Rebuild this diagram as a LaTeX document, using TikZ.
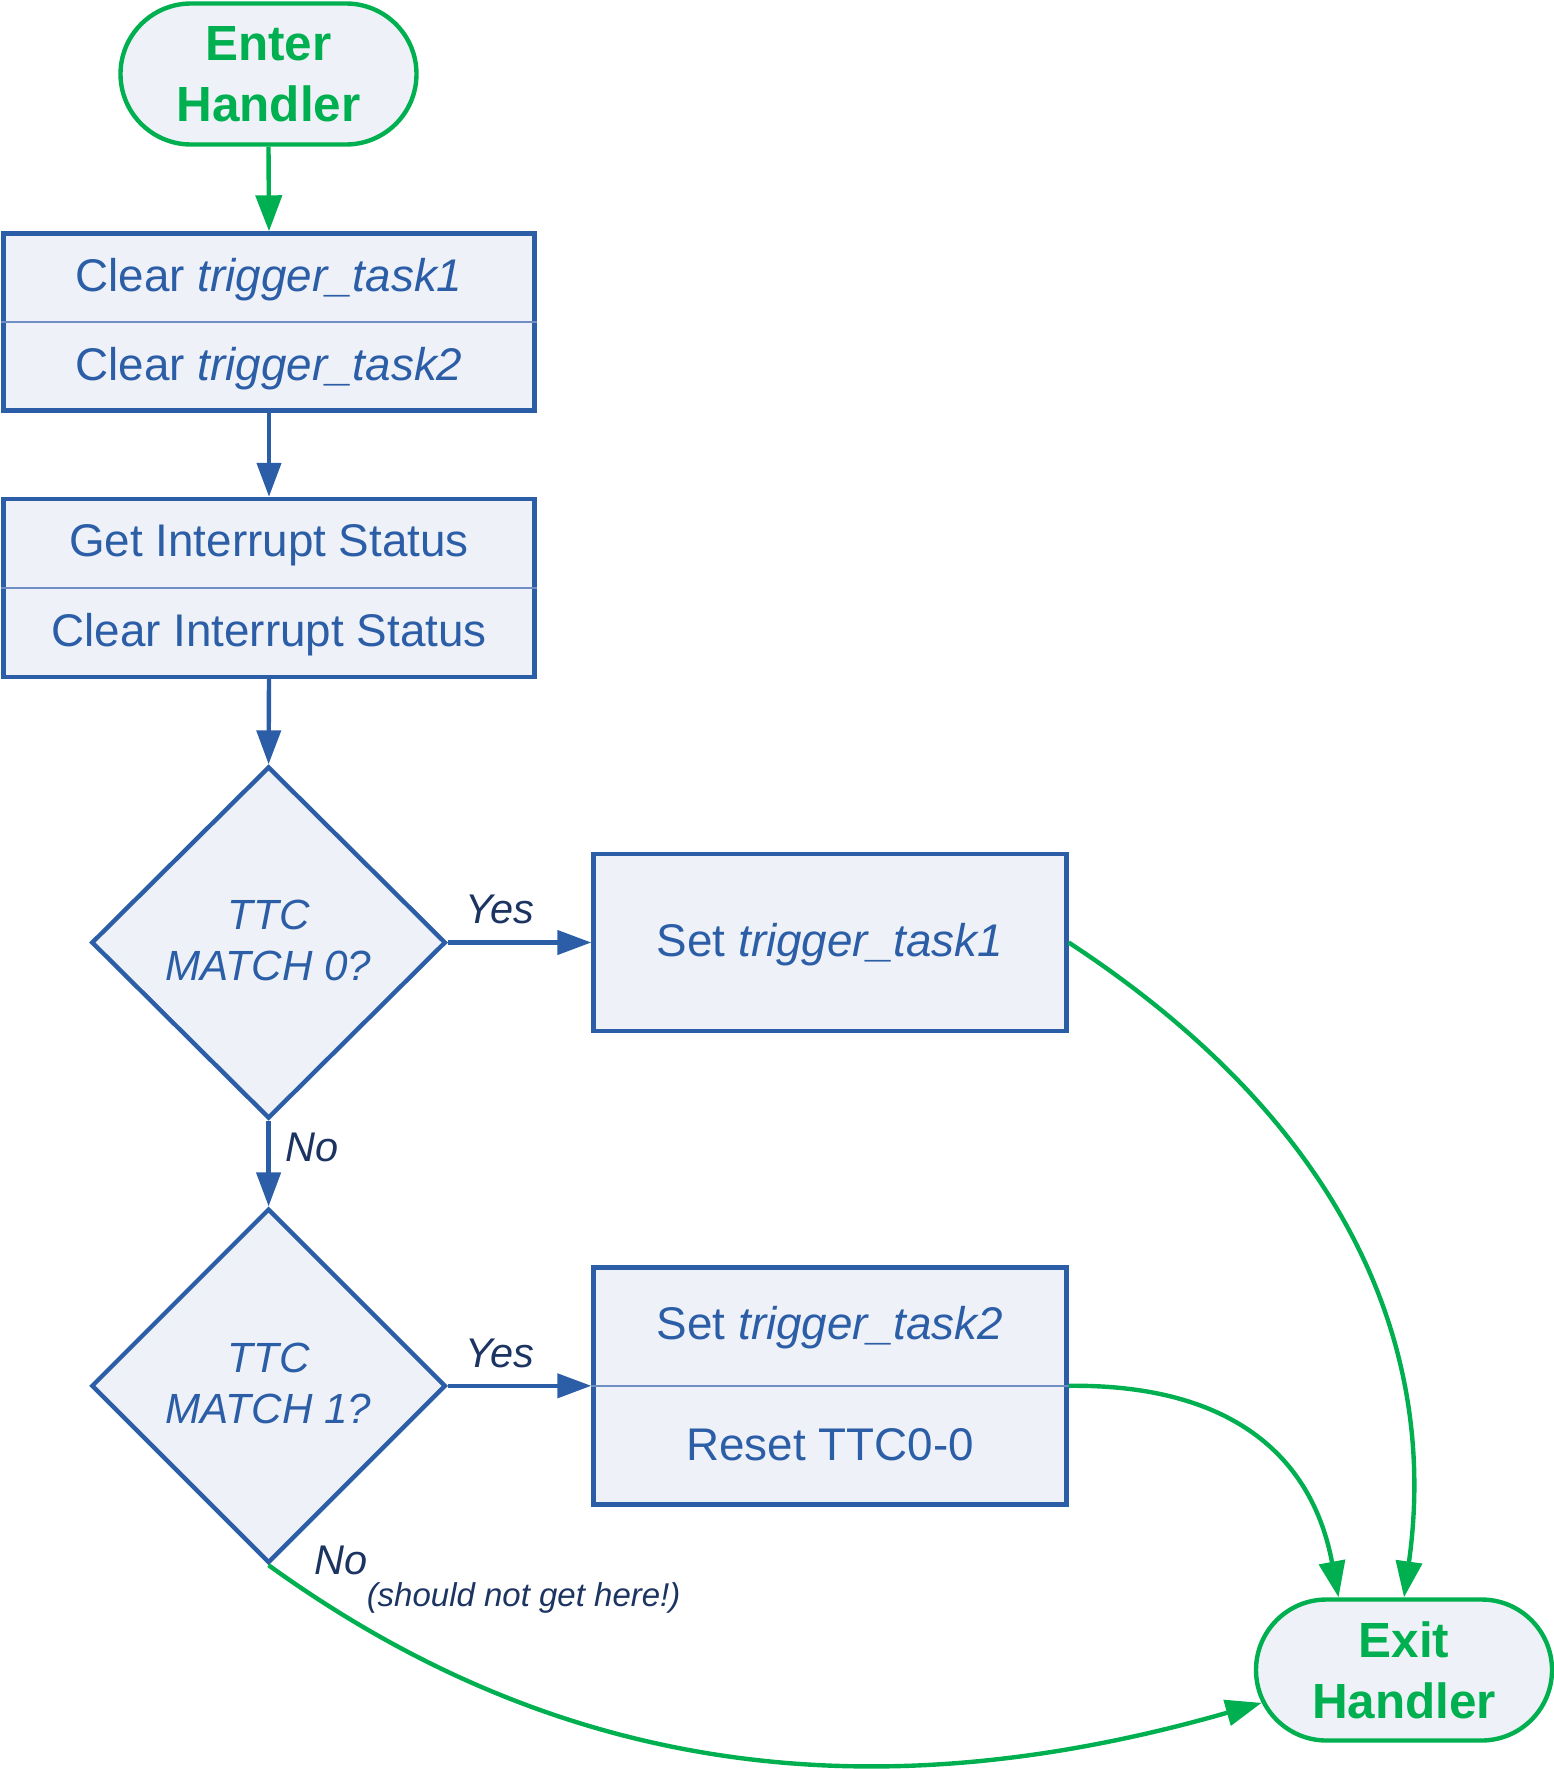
\documentclass[tikz,border=0pt]{standalone}
\usepackage{fontspec}
\setmainfont{Liberation Sans}
\usetikzlibrary{arrows.meta,shapes.geometric,shapes.misc}
\definecolor{bord}{HTML}{2B5EA7}
\definecolor{fillc}{HTML}{EEF1F7}
\definecolor{grn}{HTML}{00B050}
\definecolor{lbl}{HTML}{1C3461}
\definecolor{divc}{HTML}{6F8FC4}
\begin{document}
\begin{tikzpicture}[x=1pt,y=-1pt,
  procbox/.style={rectangle, draw=bord, fill=fillc, line width=4.4pt, inner sep=0pt},
  decbox/.style={diamond, draw=bord, fill=fillc, line width=4.4pt, inner sep=0pt, aspect=1},
  dectext/.style={text=bord, align=center, inner sep=0pt, font=\itshape\fontsize{42.2}{51}\selectfont},
  termbox/.style={rounded rectangle, draw=grn, fill=fillc, line width=4.4pt, inner sep=0pt,
     minimum width=296pt, minimum height=141pt, text=grn, align=center,
     font=\bfseries\fontsize{49.4}{61}\selectfont},
  rowtext/.style={text=bord, inner sep=0pt, font=\fontsize{45.8}{55}\selectfont},
  divline/.style={draw=divc, line width=1.5pt},
  blueconn/.style={draw=bord, line width=4.4pt, -{Triangle[length=34pt,width=24pt]}},
  greenconn/.style={draw=grn, line width=4.4pt, -{Triangle[length=36pt,width=26pt]}},
  lbltext/.style={text=lbl, inner sep=0pt, font=\itshape\fontsize{41.5}{47}\selectfont},
  notetext/.style={text=lbl, inner sep=0pt, font=\itshape\fontsize{33}{40}\selectfont}
]
\useasboundingbox (0,0) rectangle (1554,1769);

% terminals
\node[termbox] (enter) at (268.5,74) {Enter\\Handler};
\node[termbox] (exit) at (1404,1670) {Exit\\Handler};

% process boxes
\node[procbox, minimum width=531pt, minimum height=177pt] (b1) at (269,322) {};
\draw[divline] (b1.west) -- (b1.east);
\node[rowtext] (b1a) at (269,280) {Clear \textit{trigger\_task1}};
\node[rowtext] (b1b) at (269,368.5) {Clear \textit{trigger\_task2}};

\node[procbox, minimum width=531pt, minimum height=178pt] (b2) at (269,588) {};
\draw[divline] (b2.west) -- (b2.east);
\node[rowtext] (b2a) at (269,545) {Get Interrupt Status};
\node[rowtext] (b2b) at (269,634.5) {Clear Interrupt Status};

\node[procbox, minimum width=473pt, minimum height=177.5pt] (b3) at (830,942.5) {};
\node[rowtext] (b3a) at (830,944.5) {Set \textit{trigger\_task1}};

\node[procbox, minimum width=473pt, minimum height=237pt] (b4) at (830,1385.8) {};
\draw[divline] (b4.west) -- (b4.east);
\node[rowtext] (b4a) at (830,1328) {Set \textit{trigger\_task2}};
\node[rowtext] (b4b) at (830,1445) {Reset TTC0-0};

% decisions
\node[decbox, minimum width=354.4pt, minimum height=352pt] (d1) at (268.6,942.5) {};
\node[dectext] (d1t) at (268.6,940) {TTC\\MATCH 0?};
\node[decbox, minimum width=354.4pt, minimum height=354.4pt] (d2) at (268.6,1385.8) {};
\node[dectext] (d2t) at (268.6,1383.5) {TTC\\MATCH 1?};

% straight connectors
\draw[greenconn] (enter.south) -- (b1.north);
\draw[blueconn] (b1.south) -- (b2.north);
\draw[blueconn] (b2.south) -- (d1.north);
\draw[blueconn] (d1.east) -- (b3.west);
\draw[blueconn] (d1.south) -- (d2.north);
\draw[blueconn] (d2.east) -- (b4.west);

% curved connectors
\draw[greenconn] (b3.east) .. controls (1340,1120) and (1440,1341) .. (exit.north);
\draw[greenconn] (b4.east) .. controls (1230,1384) and (1312,1455) .. (exit.132);
\draw[greenconn] (d2.south) .. controls (592,1799) and (919,1801) .. (exit.193);

% labels
\node[lbltext] (y1) at (500,909.6) {Yes};
\node[lbltext] (n1) at (312,1147.7) {No};
\node[lbltext] (y2) at (500,1353) {Yes};
\node[lbltext] (n2) at (341.5,1560.7) {No};
\node[notetext] (note) at (523.6,1598) {(should not get here!)};
\end{tikzpicture}
\end{document}
